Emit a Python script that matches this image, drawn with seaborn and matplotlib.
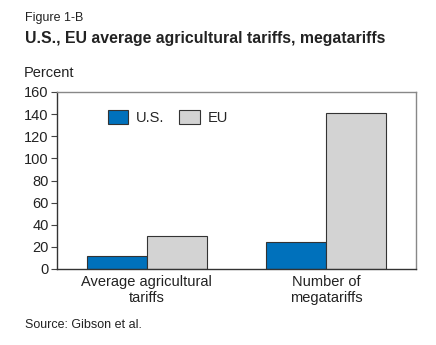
import matplotlib
matplotlib.use("Agg")
import matplotlib.pyplot as plt
import seaborn as sns
import pandas as pd

categories = ["Average agricultural\ntariffs", "Number of\nmegatariffs"]
us_values = [12, 24]
eu_values = [30, 141]
series = ["U.S.", "EU"]
yticks = [0, 20, 40, 60, 80, 100, 120, 140, 160]

df = pd.DataFrame({
    "category": categories * 2,
    "value": us_values + eu_values,
    "series": [series[0]] * 2 + [series[1]] * 2,
})

sns.set_theme(style="white")
plt.rcParams['font.family'] = ['Liberation Sans', 'DejaVu Sans']

fig = plt.figure(figsize=(4.36, 3.45), dpi=100)
ax = fig.add_axes([57/436, 76/345, 359/436, 177/345])

sns.barplot(data=df, x="category", y="value", hue="series",
            palette={"U.S.": "#0071BC", "EU": "#D3D3D3"},
            width=0.67, edgecolor="#333333", linewidth=0.8,
            saturation=1, ax=ax)

ax.set_xlim(-0.5, 1.5)
ax.set_ylim(0, 160)
ax.set_yticks(yticks)
ax.set_yticklabels([str(t) for t in yticks], fontsize=10.5, color="#222222")
ax.tick_params(axis="x", labelsize=10.5, colors="#222222", length=0, pad=4)
ax.tick_params(axis="y", left=True, length=4, width=0.8, color="#444444", pad=2)
ax.set_xlabel("")
ax.set_ylabel("")
for s in ["top", "right"]:
    ax.spines[s].set_color("#888888")
    ax.spines[s].set_linewidth(1.0)
for s in ["left", "bottom"]:
    ax.spines[s].set_color("#333333")
    ax.spines[s].set_linewidth(1.0)

leg = ax.legend(loc="upper left", bbox_to_anchor=(0.105, 0.97), ncol=2, frameon=False,
                fontsize=10.5, handlelength=1.4, handleheight=1.05,
                columnspacing=1.0, handletextpad=0.55)

fig.text(25/436, 1 - 18/345, "Figure 1-B", fontsize=9, color="#222222", va="center")
fig.text(25/436, 1 - 38/345, "U.S., EU average agricultural tariffs, megatariffs",
         fontsize=11.4, fontweight="bold", color="#222222", va="center")
fig.text(24/436, 1 - 73/345, "Percent", fontsize=10.5, color="#222222", va="center")
fig.text(25/436, 1 - 325/345, "Source: Gibson et al.", fontsize=9, color="#222222", va="center")

fig.savefig("out.png", dpi=100)
